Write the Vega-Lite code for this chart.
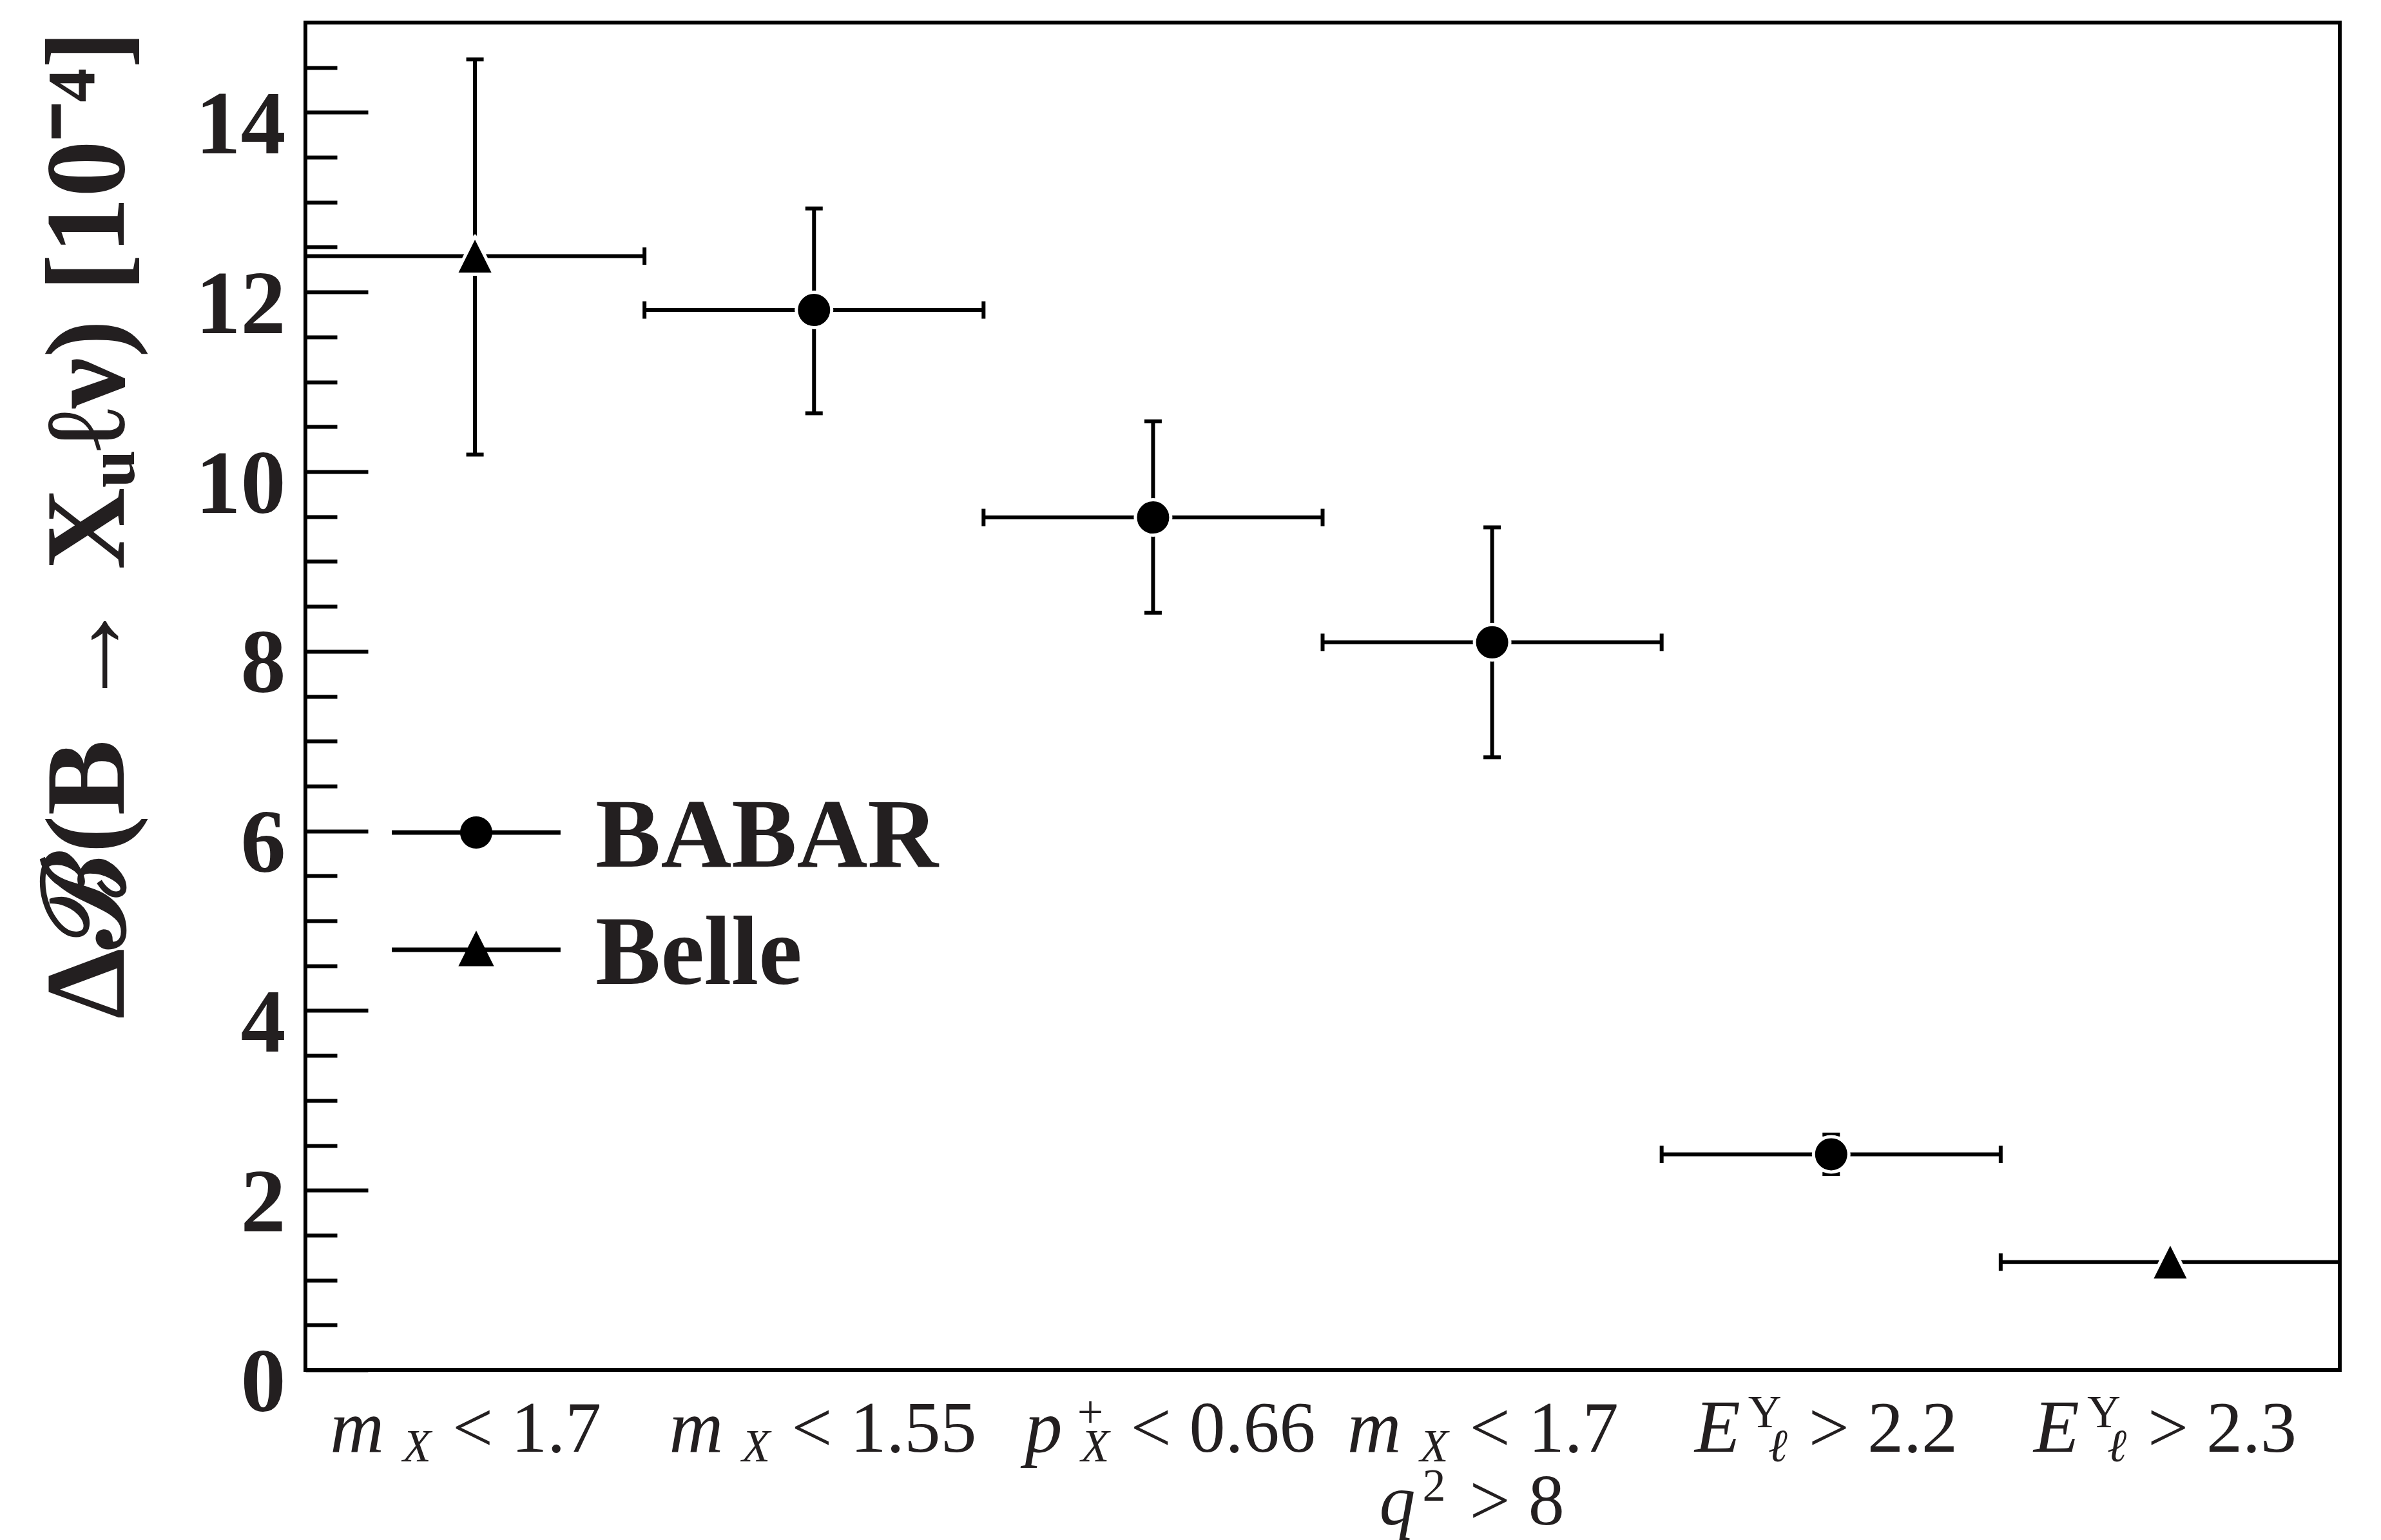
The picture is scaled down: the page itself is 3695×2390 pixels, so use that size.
{
  "$schema": "https://vega.github.io/schema/vega-lite/v6.json",
  "autosize": {"type": "none"},
  "padding": {"left": 474, "top": 35, "right": 64, "bottom": 264},
  "width": 3157,
  "height": 2091,
  "background": "white",
  "config": {"view": {"stroke": "black", "strokeWidth": 6}},
  "data": {"values": [
    {"exp": "Belle", "x": 0.5, "xlo": 0, "xhi": 1, "y": 12.40, "ylo": 10.19, "yhi": 14.59, "base": "m", "sub": "X", "sup": "", "rest": "< 1.7"},
    {"exp": "BABAR", "x": 1.5, "xlo": 1, "xhi": 2, "y": 11.80, "ylo": 10.65, "yhi": 12.93, "base": "m", "sub": "X", "sup": "", "rest": "< 1.55"},
    {"exp": "BABAR", "x": 2.5, "xlo": 2, "xhi": 3, "y": 9.49, "ylo": 8.43, "yhi": 10.56, "base": "p", "sub": "X", "sup": "+", "rest": "< 0.66"},
    {"exp": "BABAR", "x": 3.5, "xlo": 3, "xhi": 4, "y": 8.10, "ylo": 6.82, "yhi": 9.38, "base": "m", "sub": "X", "sup": "", "rest": "< 1.7", "base2": "q", "sup2": "2", "rest2": "> 8"},
    {"exp": "BABAR", "x": 4.5, "xlo": 4, "xhi": 5, "y": 2.40, "ylo": 2.18, "yhi": 2.62, "base": "E", "sub": "ℓ", "sup": "Υ", "rest": "> 2.2"},
    {"exp": "Belle", "x": 5.5, "xlo": 5, "xhi": 6, "y": 1.20, "ylo": 1.20, "yhi": 1.20, "base": "E", "sub": "ℓ", "sup": "Υ", "rest": "> 2.3"}
  ]},
  "resolve": {"scale": {"shape": "independent"}},
  "encoding": {
    "x": {"field": "x", "type": "quantitative", "scale": {"domain": [0, 6], "nice": false, "zero": false}, "axis": null}
  },
  "layer": [
    {
      "mark": {"type": "rule", "color": "black", "strokeWidth": 6},
      "encoding": {
        "x": {"field": "xlo", "type": "quantitative"},
        "x2": {"field": "xhi"},
        "y": {"field": "y", "type": "quantitative",
          "scale": {"domain": [0, 15], "nice": false, "zero": false},
          "axis": {
            "values": [0, 0.5, 1, 1.5, 2, 2.5, 3, 3.5, 4, 4.5, 5, 5.5, 6, 6.5, 7, 7.5, 8, 8.5, 9, 9.5, 10, 10.5, 11, 11.5, 12, 12.5, 13, 13.5, 14, 14.5],
            "labelExpr": "datum.value % 2 === 0 ? format(datum.value, 'd') : ''",
            "tickSize": {"condition": {"test": "datum.value % 2 === 0", "value": -97}, "value": -49},
            "tickWidth": 6,
            "tickColor": "black",
            "domain": false,
            "grid": false,
            "labelOverlap": false,
            "labelLimit": 600,
            "labelFont": "Liberation Serif",
            "labelFontWeight": "bold",
            "labelFontSize": 140,
            "labelColor": "#231f20",
            "labelPadding": 128,
            "labelBaseline": "alphabetic",
            "labelOffset": 63,
            "title": "Δℬ(B → Xᵤℓν)  [10⁻⁴]",
            "titleFont": "Liberation Serif",
            "titleFontWeight": "bold",
            "titleFontSize": 176,
            "titleColor": "#231f20",
            "titleAngle": -90,
            "titleAlign": "right",
            "titleBaseline": "alphabetic",
            "titleLimit": 2500,
            "titleX": -283,
            "titleY": 12
          }
        }
      }
    },
    {
      "mark": {"type": "tick", "orient": "vertical", "size": 27, "thickness": 6, "color": "black", "opacity": 1},
      "encoding": {"x": {"field": "xlo", "type": "quantitative"}, "y": {"field": "y", "type": "quantitative"}}
    },
    {
      "mark": {"type": "tick", "orient": "vertical", "size": 27, "thickness": 6, "color": "black", "opacity": 1},
      "encoding": {"x": {"field": "xhi", "type": "quantitative"}, "y": {"field": "y", "type": "quantitative"}}
    },
    {
      "mark": {"type": "rule", "color": "black", "strokeWidth": 6},
      "encoding": {"y": {"field": "ylo", "type": "quantitative"}, "y2": {"field": "yhi"}}
    },
    {
      "mark": {"type": "tick", "orient": "horizontal", "size": 27, "thickness": 6, "color": "black", "opacity": 1},
      "encoding": {"y": {"field": "ylo", "type": "quantitative"}}
    },
    {
      "mark": {"type": "tick", "orient": "horizontal", "size": 27, "thickness": 6, "color": "black", "opacity": 1},
      "encoding": {"y": {"field": "yhi", "type": "quantitative"}}
    },
    {
      "mark": {"type": "point", "filled": true, "fill": "black", "stroke": "white", "strokeWidth": 5, "strokeJoin": "round", "size": 3025, "opacity": 1, "fillOpacity": 1, "strokeOpacity": 1},
      "encoding": {
        "y": {"field": "y", "type": "quantitative"},
        "shape": {"field": "exp", "type": "nominal",
          "scale": {"domain": ["BABAR", "Belle"], "range": ["M-1,0A1,1 0 1,0 1,0A1,1 0 1,0 -1,0Z", "M0,-1.131L-1.0745,1.019L1.0745,1.019Z"]},
          "legend": null
        }
      }
    },
    {
      "transform": [{"filter": "datum.x > 100"}],
      "mark": {"type": "point", "filled": true, "fill": "black", "stroke": "black", "strokeWidth": 7, "strokeJoin": "round", "size": 3025, "opacity": 1, "fillOpacity": 1, "strokeOpacity": 1},
      "encoding": {
        "y": {"field": "y", "type": "quantitative"},
        "shape": {"field": "exp", "type": "nominal",
          "scale": {"domain": ["BABAR", "Belle"], "range": ["M-4.76,0H4.76M-0.782,0A0.782,0.782 0 1,0 0.782,0A0.782,0.782 0 1,0 -0.782,0Z", "M-4.76,0H4.76M0,-0.8L-0.8,0.8L0.8,0.8Z"]},
          "legend": {
            "orient": "none",
            "legendX": 189,
            "legendY": 1181,
            "title": null,
            "padding": 0,
            "symbolSize": 3025,
            "symbolStrokeWidth": 7,
            "symbolStrokeColor": "black",
            "symbolFillColor": "black",
            "rowPadding": 23,
            "labelFont": "Liberation Serif",
            "labelFontWeight": "bold",
            "labelFontSize": 152,
            "labelColor": "#231f20",
            "labelOffset": 109,
            "labelLimit": 1000,
            "encoding": {
              "symbols": {
                "fill": {"value": "black"},
                "stroke": {"value": "black"},
                "strokeWidth": {"value": 7},
                "size": {"value": 3025},
                "opacity": {"value": 1},
                "fillOpacity": {"value": 1},
                "strokeOpacity": {"value": 1}
              },
              "labels": {"dy": {"value": 7}}
            }
          }
        }
      }
    },
    {
      "mark": {"type": "text", "align": "right", "baseline": "alphabetic", "dx": -141, "dy": 127, "font": "Liberation Serif", "fontStyle": "italic", "fontSize": 116, "color": "#231f20"},
      "encoding": {"y": {"datum": 0, "type": "quantitative"}, "text": {"field": "base"}}
    },
    {
      "mark": {"type": "text", "align": "right", "baseline": "alphabetic", "dx": -68, "dy": 142, "font": "Liberation Serif", "fontStyle": "italic", "fontSize": 72, "color": "#231f20"},
      "encoding": {"y": {"datum": 0, "type": "quantitative"}, "text": {"field": "sub"}}
    },
    {
      "mark": {"type": "text", "align": "right", "baseline": "alphabetic", "dx": -77, "dy": 89, "font": "Liberation Serif", "fontSize": 72, "color": "#231f20"},
      "encoding": {"y": {"datum": 0, "type": "quantitative"}, "text": {"field": "sup"}}
    },
    {
      "mark": {"type": "text", "align": "left", "baseline": "alphabetic", "dx": -35, "dy": 127, "font": "Liberation Serif", "fontSize": 112, "color": "#231f20"},
      "encoding": {"y": {"datum": 0, "type": "quantitative"}, "text": {"field": "rest"}}
    },
    {
      "transform": [{"filter": "datum.base2 != null"}],
      "mark": {"type": "text", "align": "right", "baseline": "alphabetic", "dx": -119, "dy": 240, "font": "Liberation Serif", "fontStyle": "italic", "fontSize": 112, "color": "#231f20"},
      "encoding": {"y": {"datum": 0, "type": "quantitative"}, "text": {"field": "base2"}}
    },
    {
      "transform": [{"filter": "datum.base2 != null"}],
      "mark": {"type": "text", "align": "right", "baseline": "alphabetic", "dx": -72, "dy": 203, "font": "Liberation Serif", "fontSize": 72, "color": "#231f20"},
      "encoding": {"y": {"datum": 0, "type": "quantitative"}, "text": {"field": "sup2"}}
    },
    {
      "transform": [{"filter": "datum.base2 != null"}],
      "mark": {"type": "text", "align": "left", "baseline": "alphabetic", "dx": -35, "dy": 240, "font": "Liberation Serif", "fontSize": 112, "color": "#231f20"},
      "encoding": {"y": {"datum": 0, "type": "quantitative"}, "text": {"field": "rest2"}}
    }
  ]
}
